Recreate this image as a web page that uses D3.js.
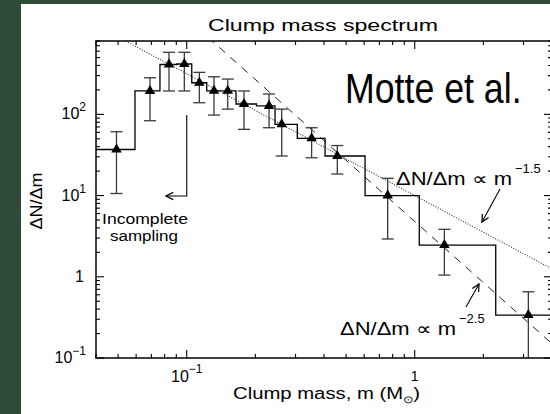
<!DOCTYPE html>
<html>
<head>
<meta charset="utf-8">
<script src="https://cdn.jsdelivr.net/npm/d3@7"></script>
<style>
body { margin: 0; background: #2e4c37; }
svg { display: block; }
text { font-family: "Liberation Sans", Arial, sans-serif; fill: #000; }
</style>
</head>
<body>
<div id="viz"></div>
<script>
// clump masses (bin centres, M_sun) and dN/dm
const mass   = [0.0492, 0.0690, 0.0836, 0.0976, 0.1136, 0.1317, 0.1513, 0.1783, 0.2296, 0.261, 0.353, 0.4575, 0.761, 1.349, 3.15];
const counts = [36.9, 194, 411, 417, 245, 195, 195, 134, 127, 75.4, 50.7, 30.7, 10.0, 2.46, 0.338];
const errHi  = [61.1, 282, 581, 581, 329, 290, 272, 194, 178, 116, 68.4, 41.3, 16.3, 3.84, 0.654];
const errLo  = [10.6, 83.4, 194, 194, 139, 98, 116, 65.4, 68.4, 30.7, 29.2, 18.4, 2.92, 1.05, 0.05];
const binEdges = [0.04, 0.0593, 0.0763, 0.0904, 0.1052, 0.1224, 0.1414, 0.1645, 0.2023, 0.2439, 0.3055, 0.4043, 0.6056, 1.047, 2.266, 4.0];

// power laws dN/dm = k * m^slope
const slopes = [-1.5, -2.5];
const norms  = [10, 4.8];

const xTicks = [0.1, 1];
const xTickText = [["10", "\u22121"], ["1", ""]];
const yTicks = [0.1, 1, 10, 100];
const yTickText = [["10", "\u22121"], ["1", ""], ["10", "1"], ["10", "2"]];

const W = 550, H = 414;
const L = 96, R = 552, T = 41, B = 358;

const x = d3.scaleLog().domain([0.04, 4]).range([L, R]);
const y = d3.scaleLog().domain([0.1, 800]).range([B, T]);

const svg = d3.select('#viz').append('svg')
    .attr('width', W)
    .attr('height', H);

// white panel
svg.append('rect')
    .attr('x', 21).attr('y', 4)
    .attr('width', W - 21).attr('height', H - 4)
    .attr('fill', '#fff');

const defs = svg.append('defs');
defs.append('clipPath').attr('id', 'plot')
    .append('rect').attr('x', L).attr('y', T).attr('width', R - L).attr('height', B - T);
defs.append('marker')
    .attr('id', 'head')
    .attr('viewBox', '0 0 10 10')
    .attr('refX', 9).attr('refY', 5)
    .attr('markerWidth', 9).attr('markerHeight', 9)
    .attr('markerUnits', 'userSpaceOnUse')
    .attr('orient', 'auto')
    .append('path')
    .attr('d', 'M1,1 L9,5 L1,9')
    .attr('fill', 'none')
    .attr('stroke', '#000')
    .attr('stroke-width', 1.4);

const g = svg.append('g').attr('clip-path', 'url(#plot)');

// power-law lines
const lawPts = (k, s) => [0.04, 4].map(m => [m, k * Math.pow(m, s)]);
const line = d3.line().x(d => x(d[0])).y(d => y(d[1]));
g.append('path')
    .attr('d', line(lawPts(norms[0], slopes[0])))
    .attr('fill', 'none').attr('stroke', '#333').attr('stroke-width', 1.1)
    .attr('stroke-dasharray', '1,1.6');
g.append('path')
    .attr('d', line(lawPts(norms[1], slopes[1])))
    .attr('fill', 'none').attr('stroke', '#222').attr('stroke-width', 1)
    .attr('stroke-dasharray', '8,7');

// histogram steps
const steps = [];
counts.forEach((c, i) => { steps.push([binEdges[i], c]); steps.push([binEdges[i + 1], c]); });
g.append('path')
    .attr('d', line(steps))
    .attr('fill', 'none').attr('stroke', '#000').attr('stroke-width', 1.3);

// error bars
const eb = g.selectAll('g.err').data(mass).enter().append('g').attr('class', 'err')
    .attr('stroke', '#3a3a3a').attr('stroke-width', 1.3);
eb.append('line')
    .attr('x1', d => x(d)).attr('x2', d => x(d))
    .attr('y1', (d, i) => y(errHi[i])).attr('y2', (d, i) => y(errLo[i]));
eb.append('line')
    .attr('x1', d => x(d) - 6).attr('x2', d => x(d) + 6)
    .attr('y1', (d, i) => y(errHi[i])).attr('y2', (d, i) => y(errHi[i]));
eb.append('line')
    .attr('x1', d => x(d) - 6).attr('x2', d => x(d) + 6)
    .attr('y1', (d, i) => y(errLo[i])).attr('y2', (d, i) => y(errLo[i]));

// triangles
g.selectAll('path.pt').data(mass).enter().append('path')
    .attr('class', 'pt')
    .attr('d', d3.symbol(d3.symbolTriangle).size(48))
    .attr('transform', (d, i) => `translate(${x(d)},${y(counts[i])})`)
    .attr('fill', '#000');

// frame
svg.append('rect')
    .attr('x', L).attr('y', T).attr('width', R - L).attr('height', B - T)
    .attr('fill', 'none').attr('stroke', '#000').attr('stroke-width', 1.5);

// ticks (major + minor on all sides)
const minor = (sc) => {
    const [a, b] = sc.domain();
    const out = [];
    for (let e = Math.floor(Math.log10(a)); e <= Math.ceil(Math.log10(b)); e++)
        for (let k = 1; k < 10; k++) {
            const v = k * Math.pow(10, e);
            if (v >= a * 0.999 && v <= b * 1.001) out.push({ v, major: k === 1 });
        }
    return out;
};
const tk = svg.append('g').attr('stroke', '#000').attr('stroke-width', 1.1);
minor(x).forEach(t => {
    const len = t.major ? 8 : 4;
    tk.append('line').attr('x1', x(t.v)).attr('x2', x(t.v)).attr('y1', B).attr('y2', B - len);
    tk.append('line').attr('x1', x(t.v)).attr('x2', x(t.v)).attr('y1', T).attr('y2', T + len);
});
minor(y).forEach(t => {
    const len = t.major ? 8 : 4;
    tk.append('line').attr('y1', y(t.v)).attr('y2', y(t.v)).attr('x1', L).attr('x2', L + len);
    tk.append('line').attr('y1', y(t.v)).attr('y2', y(t.v)).attr('x1', R).attr('x2', R - len);
});

// tick labels
xTicks.forEach((v, i) => {
    const t = svg.append('text')
        .attr('x', x(v)).attr('y', 382)
        .attr('text-anchor', 'middle').attr('font-size', 16);
    t.append('tspan').text(xTickText[i][0]);
    if (xTickText[i][1]) t.append('tspan').attr('dy', -9).attr('font-size', 12).text(xTickText[i][1]);
    else t.attr('dy', -1).attr('font-size', 14);
});
yTicks.forEach((v, i) => {
    const t = svg.append('text')
        .attr('x', 86).attr('y', y(v) + 5)
        .attr('text-anchor', 'end').attr('font-size', 16);
    t.append('tspan').text(yTickText[i][0]);
    if (yTickText[i][1]) t.append('tspan').attr('dy', -8).attr('font-size', 12).text(yTickText[i][1]);
    else t.attr('x', 84);
});

// titles
svg.append('text')
    .attr('x', 208).attr('y', 31).attr('font-size', 17)
    .attr('textLength', 230).attr('lengthAdjust', 'spacingAndGlyphs')
    .text('Clump mass spectrum');

const xl = svg.append('text')
    .attr('x', 233).attr('y', 399).attr('font-size', 16)
    .attr('textLength', 187).attr('lengthAdjust', 'spacingAndGlyphs');
xl.append('tspan').text('Clump mass, m (M');
xl.append('tspan').attr('dy', 4).attr('font-size', 10).text('\u2299');
xl.append('tspan').attr('dy', -4).text(')');

svg.append('text')
    .attr('transform', 'translate(42,201) rotate(-90)')
    .attr('text-anchor', 'middle').attr('font-size', 16)
    .attr('textLength', 57).attr('lengthAdjust', 'spacingAndGlyphs')
    .text('\u0394N/\u0394m');

svg.append('text')
    .attr('transform', 'translate(345,103) scale(0.85,1)')
    .attr('font-size', 42)
    .text('Motte et al.');

// power-law annotations
const law = (x0, yb, w, exp) => {
    svg.append('text').attr('x', x0).attr('y', yb).attr('font-size', 18)
        .attr('textLength', w).attr('lengthAdjust', 'spacingAndGlyphs')
        .text('\u0394N/\u0394m \u221d m');
    svg.append('text').attr('x', x0 + w + 3).attr('y', yb - 12).attr('font-size', 13)
        .text(exp);
};
law(396, 185, 116, '\u22121.5');
law(340, 335, 116, '\u22122.5');

const arrow = (pts) => svg.append('path')
    .attr('d', d3.line()(pts))
    .attr('fill', 'none').attr('stroke', '#000').attr('stroke-width', 1.1)
    .attr('marker-end', 'url(#head)');
arrow([[500, 189], [482, 222]]);
arrow([[466, 307], [479, 284]]);
arrow([[x(0.1), 115], [x(0.1), 196], [166, 196]]);

// incomplete sampling note
svg.append('text').attr('x', 145).attr('y', 224).attr('text-anchor', 'middle')
    .attr('font-size', 14).attr('textLength', 86).attr('lengthAdjust', 'spacingAndGlyphs')
    .text('Incomplete');
svg.append('text').attr('x', 144).attr('y', 241).attr('text-anchor', 'middle')
    .attr('font-size', 14).attr('textLength', 68).attr('lengthAdjust', 'spacingAndGlyphs')
    .text('sampling');
</script>
</body>
</html>
